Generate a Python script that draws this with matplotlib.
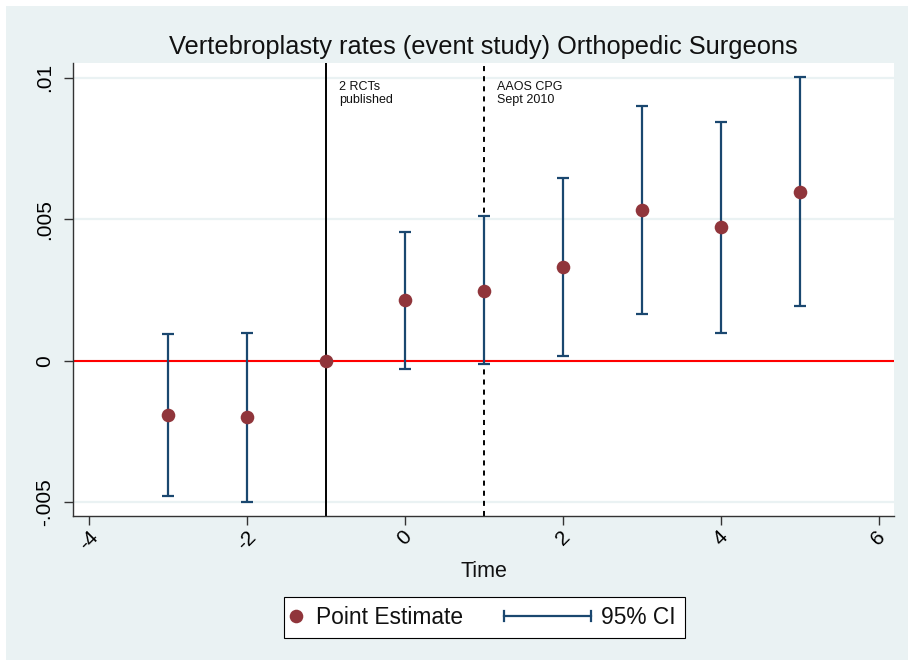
import matplotlib
matplotlib.use('Agg')
import numpy as np
import matplotlib.pyplot as plt
from matplotlib.patches import Rectangle
from matplotlib.lines import Line2D
from matplotlib.legend_handler import HandlerBase

plt.rcParams['font.family'] = ['Liberation Sans', 'DejaVu Sans']
plt.rcParams['axes.unicode_minus'] = False

# ---------------- data ----------------
time = [-3, -2, -1, 0, 1, 2, 3, 4, 5]
estimate = [-0.00192, -0.00199, 0.0, 0.00215, 0.00248, 0.00330, 0.00533, 0.00472, 0.00597]
ci_low = [-0.00478, -0.00499, np.nan, -0.00028, -0.00013, 0.00017, 0.00166, 0.00099, 0.00193]
ci_high = [0.00094, 0.00099, np.nan, 0.00454, 0.00511, 0.00646, 0.00901, 0.00844, 0.01002]

xticks = [-4, -2, 0, 2, 4, 6]
xtick_labels = ['-4', '-2', '0', '2', '4', '6']
yticks = [-0.005, 0.0, 0.005, 0.01]
ytick_labels = ['-.005', '0', '.005', '.01']

events_x = [-1, 1]
events_text = ['2 RCTs\npublished', 'AAOS CPG\nSept 2010']
events_style = ['solid', 'dashed']

title = 'Vertebroplasty rates (event study) Orthopedic Surgeons'
xlabel = 'Time'
legend_labels = ['Point Estimate', '95% CI']

# ---------------- style ----------------
W, H = 908, 667
BG = '#EAF2F3'
CI_COL = '#1A476F'
PT_COL = '#90353B'

fig = plt.figure(figsize=(W / 100, H / 100), dpi=100, facecolor='white')
fig.patches.append(Rectangle((6 / W, 7 / H), (W - 6) / W, (654) / H,
                             transform=fig.transFigure, facecolor=BG,
                             edgecolor='none', zorder=-10))

ax = fig.add_axes([73.3 / W, 1 - 516 / H, (894 - 73.3) / W, (516 - 63.3) / H])
ax.set_facecolor('white')
ax.set_xlim(-4.195, 6.194)
ax.set_ylim(-0.005491, 0.010516)

for s in ['top', 'right']:
    ax.spines[s].set_visible(False)
for s in ['left', 'bottom']:
    ax.spines[s].set_color('#333333')
    ax.spines[s].set_linewidth(1.0)

ax.set_yticks(yticks)
ax.set_yticklabels(ytick_labels, rotation=90, va='center', fontsize=15)
ax.set_xticks(xticks)
ax.set_xticklabels(xtick_labels, rotation=45, ha='center', fontsize=15)
ax.tick_params(axis='y', length=6.5, width=1, color='#333333', pad=7.5)
ax.tick_params(axis='x', length=6.5, width=1, color='#333333', pad=1.5)

ax.yaxis.grid(True, color=BG, linewidth=1.6, zorder=0)
ax.set_axisbelow(True)

ax.axhline(0, color='#FF0000', linewidth=1.5, zorder=1)
for ex, et, st in zip(events_x, events_text, events_style):
    if st == 'dashed':
        ax.axvline(ex, color='black', linewidth=1.4, linestyle=(0, (2.6, 2.6)), zorder=1)
    else:
        ax.axvline(ex, color='black', linewidth=1.4, zorder=1)
    ax.annotate(et, xy=(ex, 0.0099), xytext=(9.5, 0), textcoords='offset points',
                fontsize=9, va='top', ha='left', color='#111111', linespacing=1.15)

t = np.array(time, dtype=float)
est = np.array(estimate)
lo = np.array(ci_low)
hi = np.array(ci_high)
m = ~np.isnan(lo)
ax.errorbar(t[m], est[m], yerr=[est[m] - lo[m], hi[m] - est[m]], fmt='none',
            ecolor=CI_COL, elinewidth=1.6, capsize=4.6, capthick=1.6, zorder=2)
ax.plot(t, est, 'o', color=PT_COL, markersize=9.8, markeredgewidth=0, zorder=3)

ax.set_title(title, fontsize=18.3, color='#111111', pad=7)
ax.set_xlabel(xlabel, fontsize=15.5, color='#111111', labelpad=5.5)


# ---------------- legend ----------------
class DotHandler(HandlerBase):
    def create_artists(self, legend, orig_handle, xdescent, ydescent, width, height, fontsize, trans):
        ln = Line2D([2.2 - xdescent], [(height - ydescent) / 2], marker='o', markersize=9.8,
                    color=PT_COL, markeredgewidth=0, linestyle='none')
        ln.set_transform(trans)
        return [ln]


class CapHandler(HandlerBase):
    def create_artists(self, legend, orig_handle, xdescent, ydescent, width, height, fontsize, trans):
        y = (height - ydescent) / 2
        x1 = width - xdescent
        x0 = x1 - 62.6
        main = Line2D([x0, x1], [y, y], color=CI_COL, linewidth=1.6)
        c0 = Line2D([x0, x0], [y - 3.6, y + 3.6], color=CI_COL, linewidth=1.6)
        c1 = Line2D([x1, x1], [y - 3.6, y + 3.6], color=CI_COL, linewidth=1.6)
        for a in (main, c0, c1):
            a.set_transform(trans)
        return [main, c0, c1]


h_dot = Line2D([], [])
h_ci = Line2D([], [])
leg = fig.legend([h_dot, h_ci], legend_labels, ncol=2, loc='center',
                 bbox_to_anchor=(484.5 / W, 1 - 617.5 / H),
                 handler_map={h_dot: DotHandler(), h_ci: CapHandler()},
                 fontsize=16.4, frameon=True, fancybox=False, framealpha=1,
                 edgecolor='black', facecolor='white',
                 borderpad=0.39, handlelength=0.57, handletextpad=0.44,
                 columnspacing=5.04, borderaxespad=0)
leg.get_frame().set_linewidth(0.8)
for tx in leg.get_texts():
    tx.set_color('#111111')

fig.savefig('out.png', dpi=100, facecolor='white')
